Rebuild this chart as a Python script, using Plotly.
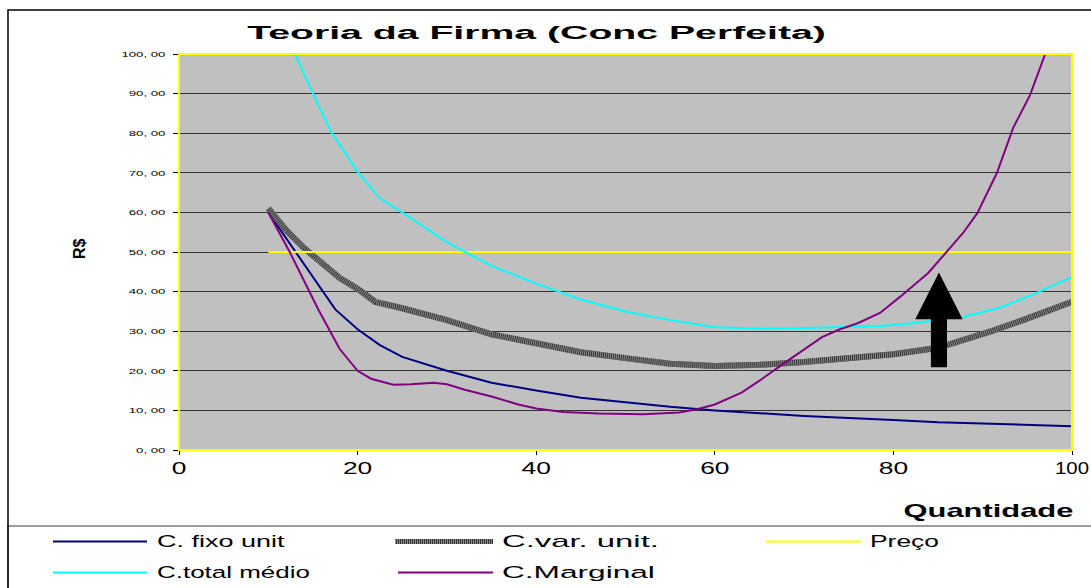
import json
import plotly.graph_objects as go

W, H = 1091, 588
PLOT_L, PLOT_R, PLOT_T, PLOT_B = 179, 1072, 54, 450

title_text = "Teoria da Firma (Conc Perfeita)"
x_title = "Quantidade"
y_title = "R$"

# Series values
q_fixo = [10, 15, 17.5, 20, 22.5, 25, 30, 35, 40, 45, 50, 55, 60, 70, 80, 85, 90, 95, 100]
c_fixo = [60, 43.5, 35.5, 30.5, 26.5, 23.5, 20, 17, 15, 13.2, 12, 10.9, 10, 8.6, 7.6, 7, 6.7, 6.3, 6]

q_var = [10, 12, 14, 17, 18, 20, 21, 22, 25, 30, 35, 40, 45, 50, 55, 60, 65, 70, 75, 80, 85, 88.6, 91, 94.5, 97, 100]
c_var = [61, 55.5, 51, 45, 43.4, 40.7, 39, 37.4, 35.8, 32.8, 29.2, 27, 24.7, 23.2, 21.8, 21.2, 21.5, 22.2, 23.2, 24.2, 25.8, 28.3, 30, 32.8, 35, 37.4]

q_preco = [10, 100]
preco = [50, 50]

q_total = [10, 12, 13, 15, 17, 20, 22.5, 25, 30, 35, 40, 45, 50, 55, 60, 65, 70, 75, 78.5, 82, 87.8, 92, 96, 100]
c_total = [121, 106.5, 100, 90, 80.5, 70.3, 63.5, 60, 52.5, 46.5, 42, 38, 35, 32.8, 31, 30.7, 30.8, 31, 31.3, 32, 33.6, 36, 39.6, 43.7]

q_marg = [10, 12.4, 15.6, 18, 20, 21.5, 24, 26, 28.5, 30, 32, 35, 38, 40, 43, 47, 52, 56, 58, 60, 63, 65, 67.5, 70, 72, 74, 76, 78.5, 80.7, 83.9, 86.1, 87.8, 89.4, 91.6, 93.4, 95.3, 97, 98.5]
c_marg = [60, 50, 35.5, 25.5, 20, 18, 16.5, 16.6, 17, 16.6, 15.2, 13.5, 11.5, 10.5, 9.6, 9.2, 9, 9.5, 10.3, 11.5, 14.5, 17.5, 21.5, 25.5, 28.5, 30.5, 32, 34.6, 38.6, 44.7, 50.5, 54.8, 59.8, 70, 81.3, 89.6, 100, 110]

series_names = ["C. fixo unit", "C.var. unit.", "Preço", "C.total médio", "C.Marginal"]

y_tick_vals = [0, 10, 20, 30, 40, 50, 60, 70, 80, 90, 100]
y_tick_text = ["0, 00", "10, 00", "20, 00", "30, 00", "40, 00", "50, 00",
               "60, 00", "70, 00", "80, 00", "90, 00", "100, 00"]
x_tick_vals = [0, 20, 40, 60, 80, 100]
x_tick_text = ["0", "20", "40", "60", "80", "100"]

# arrow (annotation graphic) in data units
ARROW_X = 85.1
ARROW_TIP, ARROW_NECK, ARROW_BASE = 44.8, 33.0, 20.9
ARROW_HEAD_HALF, ARROW_SHAFT_HALF = 2.65, 0.9

FONT = "Liberation Sans, Arial, sans-serif"
NAVY, CYAN, PURPLE, YELLOW = "#000080", "#00ffff", "#800080", "#ffff00"
DARK, HATCH = "#333333", "#8c8c8c"


def fx(px):
    return (px - PLOT_L) / (PLOT_R - PLOT_L)


def fy(py):
    return (PLOT_B - py) / (PLOT_B - PLOT_T)


fig = go.Figure()
fig.add_trace(go.Scatter(x=q_fixo, y=c_fixo, mode="lines", name=series_names[0],
                         line=dict(color=NAVY, width=2)))
fig.add_trace(go.Scatter(x=q_var, y=c_var, mode="lines", name=series_names[1],
                         line=dict(color=DARK, width=6)))
fig.add_trace(go.Scatter(x=q_var, y=c_var, mode="lines", name=series_names[1],
                         line=dict(color=HATCH, width=6, dash="1px,1px"), showlegend=False))
fig.add_trace(go.Scatter(x=q_preco, y=preco, mode="lines", name=series_names[2],
                         line=dict(color=YELLOW, width=2)))
fig.add_trace(go.Scatter(x=q_total, y=c_total, mode="lines", name=series_names[3],
                         line=dict(color=CYAN, width=2)))
fig.add_trace(go.Scatter(x=q_marg, y=c_marg, mode="lines", name=series_names[4],
                         line=dict(color=PURPLE, width=2)))

shapes = []
# legend box and outer chart frame
shapes.append(dict(type="rect", xref="paper", yref="paper", x0=fx(8), x1=fx(1100),
                   y0=fy(526), y1=fy(600), line=dict(color="#7f7f7f", width=1.5)))
shapes.append(dict(type="rect", xref="paper", yref="paper", x0=fx(8), x1=fx(1100),
                   y0=fy(10), y1=fy(600), line=dict(color="#000000", width=1.5)))
# plot-area border
shapes.append(dict(type="rect", xref="paper", yref="paper", x0=0, x1=1, y0=0, y1=1,
                   line=dict(color=YELLOW, width=2)))
# arrow
ax = ARROW_X
path = (f"M{ax-ARROW_SHAFT_HALF},{ARROW_BASE} L{ax+ARROW_SHAFT_HALF},{ARROW_BASE} "
        f"L{ax+ARROW_SHAFT_HALF},{ARROW_NECK} L{ax+ARROW_HEAD_HALF},{ARROW_NECK} "
        f"L{ax},{ARROW_TIP} L{ax-ARROW_HEAD_HALF},{ARROW_NECK} "
        f"L{ax-ARROW_SHAFT_HALF},{ARROW_NECK} Z")
shapes.append(dict(type="path", xref="x", yref="y", path=path, fillcolor="#000000",
                   line=dict(color="#000000", width=0)))

# manual legend samples
leg_rows = [541.5, 572.5]
leg_items = [
    # (name, row, x0, x1, text_x, style)
    (series_names[0], 0, 53, 147, 155, dict(color=NAVY, width=2)),
    (series_names[1], 0, 395, 493, 500, "hatch"),
    (series_names[2], 0, 766, 861, 868, dict(color=YELLOW, width=2)),
    (series_names[3], 1, 53, 147, 155, dict(color=CYAN, width=2)),
    (series_names[4], 1, 398, 493, 500, dict(color=PURPLE, width=2)),
]
for name, row, x0, x1, tx, style in leg_items:
    yy = fy(leg_rows[row])
    if style == "hatch":
        shapes.append(dict(type="line", xref="paper", yref="paper", x0=fx(x0), x1=fx(x1),
                           y0=yy, y1=yy, line=dict(color=DARK, width=5)))
        shapes.append(dict(type="line", xref="paper", yref="paper", x0=fx(x0), x1=fx(x1),
                           y0=yy, y1=yy, line=dict(color=HATCH, width=5, dash="1px,1px")))
    else:
        shapes.append(dict(type="line", xref="paper", yref="paper", x0=fx(x0), x1=fx(x1),
                           y0=yy, y1=yy, line=style))

annotations = []
annotations.append(dict(text=x_title, xref="paper", yref="paper", x=fx(988), y=fy(511),
                        xanchor="center", yanchor="middle", showarrow=False,
                        font=dict(family=FONT, size=18, color="#000", weight="bold")))
annotations.append(dict(text=y_title, xref="paper", yref="paper", x=fx(79), y=fy(249),
                        xanchor="center", yanchor="middle", showarrow=False, textangle=-90,
                        font=dict(family=FONT, size=16, color="#000", weight="bold")))
for name, row, x0, x1, tx, style in leg_items:
    annotations.append(dict(text=name, xref="paper", yref="paper", x=fx(tx), y=fy(leg_rows[row]),
                            xanchor="left", yanchor="middle", align="left", showarrow=False,
                            font=dict(family=FONT, size=17, color="#000")))

fig.update_layout(
    width=W, height=H, autosize=False,
    margin=dict(l=PLOT_L, r=W - PLOT_R, t=PLOT_T, b=H - PLOT_B, pad=0, autoexpand=False),
    paper_bgcolor="#ffffff", plot_bgcolor="#c0c0c0",
    showlegend=False,
    title=dict(text=title_text, x=536.5 / W, y=1 - 32 / H, xref="container", yref="container",
               xanchor="center", yanchor="middle", automargin=False,
               font=dict(family=FONT, size=19, color="#000", weight="bold")),
    xaxis=dict(range=[0, 100], tickvals=x_tick_vals, ticktext=x_tick_text, automargin=False,
               showgrid=False, zeroline=False, showline=True, linecolor="#000", linewidth=1,
               ticks="outside", ticklen=4, tickcolor="#000",
               tickfont=dict(family=FONT, size=16, color="#000")),
    yaxis=dict(range=[0, 100], tickvals=y_tick_vals, ticktext=y_tick_text, automargin=False,
               showgrid=True, gridcolor="#333333", gridwidth=1, zeroline=False,
               showline=True, linecolor="#000", linewidth=1,
               ticks="outside", ticklen=5, tickcolor="#000", ticklabelstandoff=6,
               tickfont=dict(family=FONT, size=8, color="#000")),
    shapes=shapes,
    annotations=annotations,
)

# horizontal stretch of texts, as in the original (wide rendering);
# the stretch of a tick label is capped so that it stays inside the page
cfg = {"xs": 1.65, "ys": 1.65, "title": 579, "maxRight": W - 2,
       "ann": [170, None, 128, 157, 69, 153, 153]}
post = (
    "document.body.style.margin='0';"
    "var gd=document.getElementById('{plot_id}');"
    "var cfg=" + json.dumps(cfg) + ";"
    "function sc(el,s){var x=parseFloat(el.getAttribute('x')||'0');"
    "var t=el.getAttribute('transform')||'';"
    "el.setAttribute('transform',t+' translate('+x+',0) scale('+s+',1) translate('+(-x)+',0)');}"
    "function fit(el,w){try{var b=el.getBBox();if(b.width>0){sc(el,w/b.width);}}catch(e){}}"
    "gd.querySelectorAll('g.xtick text').forEach(function(e){"
    "var t0=e.getAttribute('transform')||'';sc(e,cfg.xs);"
    "try{var r=e.getBoundingClientRect();if(r.right>cfg.maxRight){"
    "var c=(r.left+r.right)/2;var half=cfg.maxRight-c;var s=cfg.xs*half/((r.right-r.left)/2);"
    "e.setAttribute('transform',t0);sc(e,Math.max(1,s));}}catch(err){}});"
    "gd.querySelectorAll('g.ytick text').forEach(function(e){sc(e,cfg.ys);});"
    "var tt=gd.querySelector('.gtitle');if(tt){fit(tt,cfg.title);}"
    "gd.querySelectorAll('text.annotation-text').forEach(function(e,i){var w=cfg.ann[i];if(w){fit(e,w);}});"
)

fig.write_html("out.html", post_script=post, config={"displayModeBar": False})
